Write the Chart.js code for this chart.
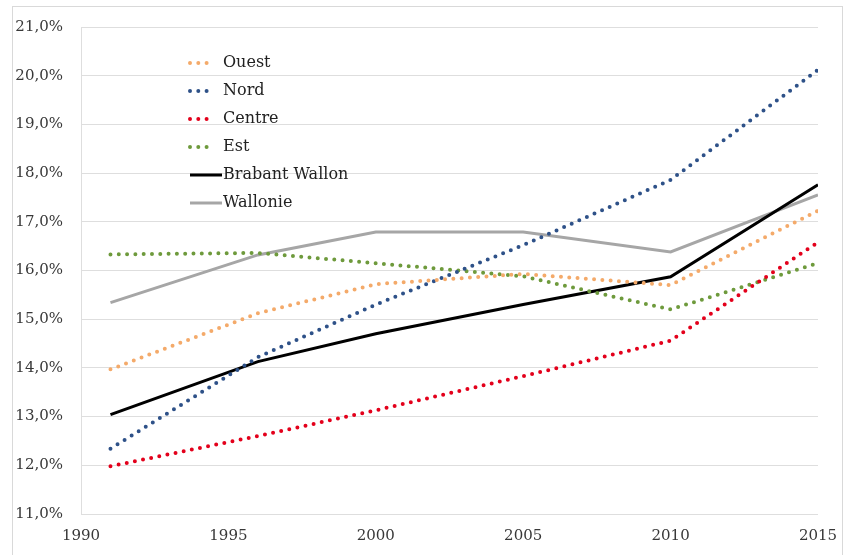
<!DOCTYPE html>
<html>
<head>
<meta charset="utf-8">
<script src="https://cdn.jsdelivr.net/npm/chart.js@4"></script>
<style>
  body { margin: 0; background: #fff; }
  #wrap { width: 856px; height: 555px; }
</style>
</head>
<body>
<div id="wrap"><canvas id="chart" width="856" height="555"></canvas></div>
<script>
const years = [1991, 1996, 2000, 2005, 2010, 2015];
const xTicks = [1990, 1995, 2000, 2005, 2010, 2015];

const ouest    = [13.97, 15.12, 15.72, 15.93, 15.70, 17.23];
const nord     = [12.34, 14.22, 15.30, 16.52, 17.86, 20.12];
const centre   = [11.98, 12.60, 13.13, 13.83, 14.56, 16.58];
const est      = [16.33, 16.36, 16.15, 15.88, 15.20, 16.15];
const brabant  = [13.04, 14.13, 14.70, 15.30, 15.87, 17.76];
const wallonie = [15.34, 16.32, 16.79, 16.79, 16.38, 17.55];

const seriesNames = ['Ouest', 'Nord', 'Centre', 'Est', 'Brabant Wallon', 'Wallonie'];

const serif = "'DejaVu Serif', 'Liberation Serif', serif";

function points(values) {
  return values.map((v, i) => ({ x: years[i], y: v }));
}

function dotted(label, values, color) {
  return {
    label: label,
    data: points(values),
    borderColor: color,
    borderWidth: 4,
    borderDash: [0, 8.3],
    borderCapStyle: 'round',
    pointRadius: 0,
    tension: 0,
    fill: false
  };
}

function solid(label, values, color) {
  return {
    label: label,
    data: points(values),
    borderColor: color,
    borderWidth: 3,
    borderCapStyle: 'butt',
    pointRadius: 0,
    tension: 0,
    fill: false
  };
}

// frame around the whole picture
const framePlugin = {
  id: 'frame',
  beforeDraw(chart) {
    const ctx = chart.ctx;
    ctx.save();
    ctx.strokeStyle = '#d9d9d9';
    ctx.lineWidth = 1;
    ctx.strokeRect(12.5, 6.5, 830, 560);
    ctx.restore();
  }
};

// legend drawn inside the plot area, top left
const innerLegend = {
  id: 'innerLegend',
  afterDraw(chart) {
    const ctx = chart.ctx;
    ctx.save();
    ctx.font = '16px ' + serif;
    ctx.textBaseline = 'middle';
    ctx.fillStyle = '#222222';
    chart.data.datasets.forEach((ds, i) => {
      const y = 63 + i * 28;
      ctx.beginPath();
      ctx.strokeStyle = ds.borderColor;
      ctx.lineWidth = ds.borderWidth;
      ctx.lineCap = ds.borderCapStyle;
      if (ds.borderDash) {
        ctx.setLineDash(ds.borderDash);
        ctx.moveTo(190, y);
        ctx.lineTo(212, y);
      } else {
        ctx.setLineDash([]);
        ctx.moveTo(190, y);
        ctx.lineTo(222, y);
      }
      ctx.stroke();
      ctx.setLineDash([]);
      ctx.fillText(ds.label, 223, y);
    });
    ctx.restore();
  }
};

const ctx = document.getElementById('chart').getContext('2d');
new Chart(ctx, {
  type: 'line',
  data: {
    datasets: [
      dotted(seriesNames[0], ouest, '#f4aa6a'),
      dotted(seriesNames[1], nord, '#2e5188'),
      dotted(seriesNames[2], centre, '#e3001b'),
      dotted(seriesNames[3], est, '#6e9a3c'),
      solid(seriesNames[4], brabant, '#000000'),
      solid(seriesNames[5], wallonie, '#a6a6a6')
    ]
  },
  options: {
    responsive: false,
    animation: false,
    devicePixelRatio: 1,
    layout: {
      padding: { left: 0, right: 38, top: 23, bottom: 0 }
    },
    plugins: {
      legend: { display: false },
      tooltip: { enabled: false }
    },
    scales: {
      x: {
        type: 'linear',
        min: 1990,
        max: 2015,
        afterBuildTicks(scale) {
          scale.ticks = xTicks.map(v => ({ value: v }));
        },
        afterFit(scale) {
          scale.height = 41;
        },
        grid: { display: false, drawTicks: false },
        border: { display: false },
        ticks: {
          padding: 13,
          maxRotation: 0,
          color: '#383838',
          font: { family: serif, size: 15 },
          callback: v => String(v)
        }
      },
      y: {
        min: 11,
        max: 21,
        afterFit(scale) {
          scale.width = 81;
        },
        grid: { color: '#dedede', lineWidth: 1, drawTicks: false },
        border: { display: true, color: '#dedede' },
        ticks: {
          stepSize: 1,
          padding: 18,
          color: '#383838',
          font: { family: serif, size: 15 },
          callback: v => v.toFixed(1).replace('.', ',') + '%'
        }
      }
    }
  },
  plugins: [framePlugin, innerLegend]
});
</script>
</body>
</html>
